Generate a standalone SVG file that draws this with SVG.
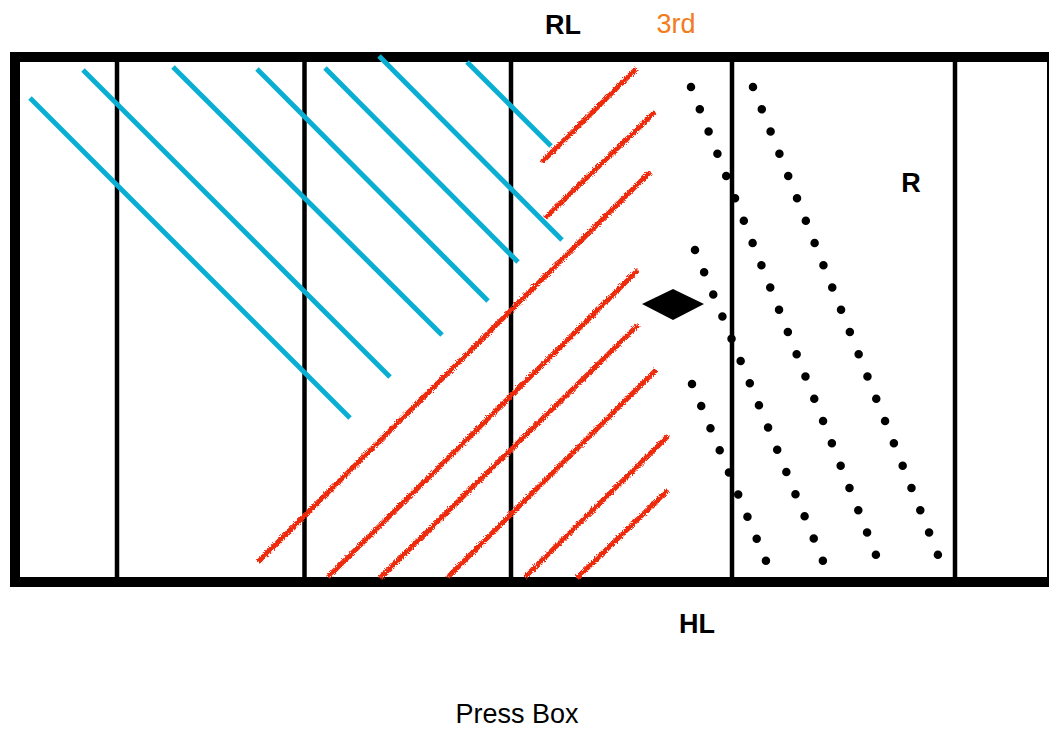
<svg xmlns="http://www.w3.org/2000/svg" width="1049" height="730" viewBox="0 0 1049 730">
  <defs>
    <style>
      .frame { fill: none; stroke: #000; stroke-width: 10; }
      .divider { stroke: #000; stroke-width: 4.5; }
      .blue { stroke: #0aaed3; stroke-width: 5; stroke-linecap: butt; }
      .red { stroke: #ee2a0c; stroke-width: 5; stroke-linecap: butt; }
      .dots { stroke: #000; stroke-width: 8.5; stroke-linecap: round; fill: none; }
      .lbl { font-family: "Liberation Sans", Arial, sans-serif; font-size: 27px; text-anchor: middle; }
      .bold { font-weight: bold; fill: #000; }
    </style>
    <!-- rough, hand-drawn edge for the red strokes -->
    <filter id="rough" filterUnits="userSpaceOnUse" x="0" y="0" width="1049" height="730">
      <feTurbulence type="fractalNoise" baseFrequency="1.1" numOctaves="2" seed="3" result="noise"/>
      <feDisplacementMap in="SourceGraphic" in2="noise" scale="5" xChannelSelector="R" yChannelSelector="G"/>
    </filter>
  </defs>

  <rect width="1049" height="730" fill="#fff"/>

  <!-- field outline and zone dividers -->
  <g id="field">
    <rect class="frame" x="15" y="57" width="1037" height="525"/>
    <line class="divider" x1="117" y1="60" x2="117" y2="579"/>
    <line class="divider" x1="304.5" y1="60" x2="304.5" y2="579"/>
    <line class="divider" x1="511" y1="60" x2="511" y2="579"/>
    <line class="divider" x1="732" y1="60" x2="732" y2="579"/>
    <line class="divider" x1="955" y1="60" x2="955" y2="579"/>
  </g>

  <!-- blue diagonal runs -->
  <g id="blue-lines">
    <line class="blue" x1="30" y1="98" x2="350" y2="418"/>
    <line class="blue" x1="83" y1="70" x2="390" y2="377"/>
    <line class="blue" x1="173" y1="67" x2="442" y2="335"/>
    <line class="blue" x1="257" y1="69" x2="488" y2="301"/>
    <line class="blue" x1="325" y1="68" x2="518" y2="262"/>
    <line class="blue" x1="379" y1="56" x2="562" y2="240"/>
    <line class="blue" x1="467" y1="62" x2="551" y2="146"/>
  </g>

  <!-- red diagonal runs -->
  <g id="red-lines" filter="url(#rough)">
    <line class="red" x1="542" y1="162" x2="636" y2="69"/>
    <line class="red" x1="545" y1="218" x2="655" y2="112"/>
    <line class="red" x1="258" y1="562" x2="650" y2="172"/>
    <line class="red" x1="328" y1="577" x2="638" y2="270"/>
    <line class="red" x1="380" y1="578" x2="638" y2="325"/>
    <line class="red" x1="448" y1="577" x2="656" y2="370"/>
    <line class="red" x1="525" y1="577" x2="668" y2="436"/>
    <line class="red" x1="577" y1="578" x2="668" y2="490"/>
  </g>

  <!-- dotted tracks -->
  <g id="dotted-lines">
    <line class="dots" x1="691" y1="87" x2="876" y2="555" stroke-dasharray="0 23.95"/>
    <line class="dots" x1="753" y1="87" x2="938" y2="555" stroke-dasharray="0 23.95"/>
    <line class="dots" x1="695" y1="250" x2="823" y2="561" stroke-dasharray="0 24"/>
    <line class="dots" x1="692" y1="384" x2="766" y2="561" stroke-dasharray="0 23.96"/>
  </g>

  <!-- marker -->
  <g id="diamond">
    <polygon points="642,304 673,289 704,304 673,320" fill="#000"/>
  </g>

  <!-- labels -->
  <g id="labels">
    <text class="lbl bold" x="563" y="34">RL</text>
    <text class="lbl" x="676" y="33" fill="#f27b1b">3rd</text>
    <text class="lbl bold" x="911" y="192">R</text>
    <text class="lbl bold" x="697" y="633">HL</text>
    <text class="lbl" x="517" y="723" fill="#000">Press Box</text>
  </g>
</svg>
